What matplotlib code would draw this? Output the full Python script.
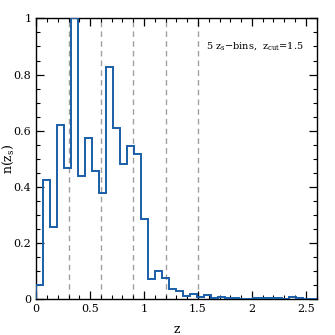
import matplotlib
matplotlib.use('Agg')
import matplotlib.pyplot as plt
import numpy as np
from matplotlib.ticker import MultipleLocator

# histogram of source redshifts, 40 bins of width 0.065 between 0 and 2.6
bin_edges = np.linspace(0, 2.6, 41)
n_z = [0.05, 0.425, 0.256, 0.619, 0.467, 1.0, 0.438, 0.575, 0.455, 0.378,
       0.828, 0.609, 0.481, 0.546, 0.518, 0.286, 0.072, 0.10, 0.074, 0.035,
       0.030, 0.011, 0.018, 0.006, 0.015, 0.005, 0.007, 0.004, 0.003, 0.002,
       0.002, 0.004, 0.003, 0.004, 0.003, 0.002, 0.006, 0.004, 0.002, 0.001]

# tomographic bin boundaries
z_bounds = [0.3, 0.6, 0.9, 1.2, 1.5]

plt.rcParams['font.family'] = ['DejaVu Serif']
plt.rcParams['mathtext.fontset'] = 'dejavuserif'

fig = plt.figure(figsize=(3.35, 3.35), dpi=100)
ax = fig.add_axes([0.108, 0.107, 0.837, 0.838])

for zb in z_bounds:
    ax.axvline(zb, color='#a0a0a0', linestyle=(0, (4, 3)), linewidth=1.0, zorder=1)

ax.stairs(n_z, bin_edges, color='#1a5ea8', linewidth=1.4, zorder=3)

ax.set_xlim(0, 2.6)
ax.set_ylim(0, 1)
ax.xaxis.set_major_locator(MultipleLocator(0.5))
ax.xaxis.set_minor_locator(MultipleLocator(0.1))
ax.yaxis.set_major_locator(MultipleLocator(0.2))
ax.yaxis.set_minor_locator(MultipleLocator(0.05))
ax.set_xticks([0, 0.5, 1, 1.5, 2, 2.5])
ax.set_xticklabels(['0', '0.5', '1', '1.5', '2', '2.5'])
ax.set_yticks([0, 0.2, 0.4, 0.6, 0.8, 1])
ax.set_yticklabels(['0', '0.2', '0.4', '0.6', '0.8', '1'])
ax.tick_params(which='both', direction='in', top=True, right=True, labelsize=8)
ax.tick_params(which='major', length=6, width=0.9)
ax.tick_params(which='minor', length=3, width=0.8)
for s in ax.spines.values():
    s.set_linewidth(1.0)

ax.set_xlabel('z', fontsize=9)
ax.xaxis.set_label_coords(0.5, -0.085)
ax.set_ylabel(r'n(z$_{\rm s}$)', fontsize=9)
ax.yaxis.set_label_coords(-0.072, 0.5)

ax.text(0.955, 0.9, r'5 z$_{\rm s}$$-$bins,  z$_{\rm cut}$=1.5', transform=ax.transAxes,
        ha='right', va='center', fontsize=7)

plt.savefig('out.png', dpi=100)
